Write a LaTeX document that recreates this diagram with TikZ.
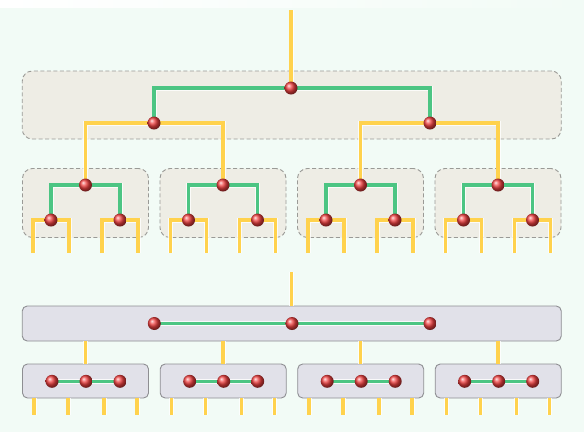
\documentclass[tikz,border=0pt]{standalone}
\usetikzlibrary{shadings}
\definecolor{bgc}{HTML}{F2FBF6}
\definecolor{dfill}{HTML}{EEEDE5}
\definecolor{dline}{HTML}{9A9A96}
\definecolor{sfill}{HTML}{E1E1E9}
\definecolor{sline}{HTML}{8E8E92}
\definecolor{yel}{HTML}{FFD24D}
\definecolor{grn}{HTML}{4CC583}
\definecolor{ballc}{HTML}{F04040}
\pgfdeclarelayer{bgl}
\pgfdeclarelayer{boxes}
\pgfdeclarelayer{wires}
\pgfsetlayers{bgl,boxes,wires,main}
\tikzset{
  ball/.style={circle,inner sep=0pt,minimum size=13pt,shading=ball,ball color=ballc},
  dashbox/.style={draw=dline,fill=dfill,line width=0.9pt,dash pattern=on 4pt off 2.5pt,rounded corners=10pt,inner sep=0pt,outer sep=0pt},
  solidbox/.style={draw=sline,fill=sfill,line width=0.9pt,rounded corners=5pt,inner sep=0pt,outer sep=0pt},
  ywire/.style={draw=yel,line width=3.5pt,preaction={draw=white,opacity=0.8,line width=5pt}},
  gwire/.style={draw=grn,line width=3.5pt,preaction={draw=white,opacity=0.8,line width=5pt}},
}
\begin{document}
\begin{tikzpicture}[x=1pt,y=-1pt]
\begin{pgfonlayer}{bgl}
\fill[bgc] (0,0) rectangle (584,432);
\shade[left color=white,right color=bgc] (0,0) rectangle (584,7);
\end{pgfonlayer}
\useasboundingbox (0,0) rectangle (584,432);

% ---------- top tree ----------
\begin{pgfonlayer}{boxes}
\node[dashbox,minimum width=539pt,minimum height=68pt] (T) at (291.75,105) {};
\end{pgfonlayer}
\node[ball] (r) at (291,88) {};
\node[ball] (a1) at (154,123) {};
\node[ball] (a2) at (430,123) {};
\coordinate (rtop) at (291,10);
\begin{pgfonlayer}{wires}
\draw[ywire] (rtop) -- (r.center);
\draw[gwire] (a1.center) |- (r.center) -| (a2.center);
\end{pgfonlayer}

\foreach \i/\cx in {1/85.5,2/223,3/360.5,4/498}{
  \begin{pgfonlayer}{boxes}
  \node[dashbox,minimum width=126pt,minimum height=69pt] (S\i) at (\cx,203) {};
  \end{pgfonlayer}
  \node[ball] (s\i) at (\cx,185) {};
  \node[ball] (l\i) at (\cx-34.5,220) {};
  \node[ball] (m\i) at (\cx+34.5,220) {};
  \coordinate (p\i) at (\cx-52.5,253);
  \coordinate (q\i) at (\cx-16.5,253);
  \coordinate (u\i) at (\cx+16.5,253);
  \coordinate (v\i) at (\cx+52.5,253);
  \begin{pgfonlayer}{wires}
  \draw[gwire] (l\i.center) |- (s\i.center) -| (m\i.center);
  \draw[ywire] (p\i) |- (l\i.center) -| (q\i);
  \draw[ywire] (u\i) |- (m\i.center) -| (v\i);
  \end{pgfonlayer}
}
\begin{pgfonlayer}{wires}
\draw[ywire] (s1.center) |- (a1.center) -| (s2.center);
\draw[ywire] (s3.center) |- (a2.center) -| (s4.center);
\end{pgfonlayer}

% ---------- bottom (flattened) ----------
\begin{pgfonlayer}{boxes}
\node[solidbox,minimum width=539pt,minimum height=35pt] (B) at (291.75,323.5) {};
\end{pgfonlayer}
\node[ball] (br) at (292,323.5) {};
\node[ball] (b1) at (154.3,323.5) {};
\node[ball] (b2) at (430,323.5) {};
\coordinate (btop) at (291.7,272);
\begin{pgfonlayer}{wires}
\draw[ywire] (btop) -- (btop |- B.north);
\draw[gwire] (b1.center) -- (br.center) -- (b2.center);
\end{pgfonlayer}

\foreach \i/\cx in {1/86,2/223.7,3/361.2,4/498.7}{
  \begin{pgfonlayer}{boxes}
  \node[solidbox,minimum width=126pt,minimum height=34pt] (C\i) at (\cx-0.5,381) {};
  \end{pgfonlayer}
  \node[ball] (c\i) at (\cx,381.3) {};
  \node[ball] (e\i) at (\cx-34,381.3) {};
  \node[ball] (f\i) at (\cx+34,381.3) {};
  \coordinate (w1\i) at (\cx-52,415);
  \coordinate (w2\i) at (\cx-18,415);
  \coordinate (w3\i) at (\cx+18,415);
  \coordinate (w4\i) at (\cx+51,415);
  \begin{pgfonlayer}{wires}
  \draw[gwire] (e\i.center) -- (c\i.center) -- (f\i.center);
  \draw[ywire] (C\i.north) -- (C\i.north |- B.south);
  \draw[ywire] (w1\i |- C\i.south) -- (w1\i);
  \draw[ywire] (w2\i |- C\i.south) -- (w2\i);
  \draw[ywire] (w3\i |- C\i.south) -- (w3\i);
  \draw[ywire] (w4\i |- C\i.south) -- (w4\i);
  \end{pgfonlayer}
}
\end{tikzpicture}
\end{document}
